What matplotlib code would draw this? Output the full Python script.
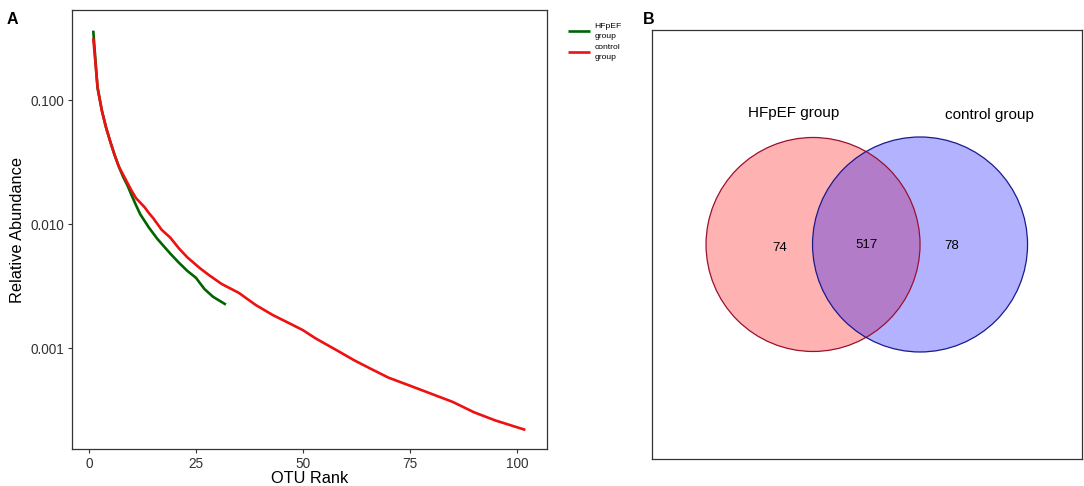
import matplotlib
matplotlib.use("Agg")
import matplotlib.pyplot as plt
from matplotlib.patches import Circle

plt.rcParams['font.family'] = ['Liberation Sans', 'DejaVu Sans']

# ---- panel A data: rank abundance curves ----
hfpef_rank = [1, 2, 3, 4, 5, 6, 7, 8, 9, 10, 11, 12, 14, 16, 19, 21, 23, 25, 27, 29, 32]
hfpef_abund = [0.363, 0.125, 0.083, 0.060, 0.046, 0.036, 0.029, 0.024, 0.0205, 0.0170,
               0.0142, 0.0120, 0.0094, 0.0076, 0.0058, 0.0049, 0.0042, 0.0037, 0.0030,
               0.0026, 0.00225]

control_rank = [1, 2, 3, 4, 5, 6, 7, 8, 9, 10, 11, 13, 14, 15, 17, 19, 21, 23, 26, 28,
                31, 35, 39, 43, 47, 50, 53, 58, 62, 66, 70, 75, 80, 85, 90, 95, 102]
control_abund = [0.315, 0.128, 0.082, 0.060, 0.046, 0.036, 0.029, 0.025, 0.0215, 0.0185,
                 0.0162, 0.0137, 0.0123, 0.0112, 0.0090, 0.0078, 0.0064, 0.0054, 0.0044,
                 0.0039, 0.0033, 0.0028, 0.00223, 0.00185, 0.00158, 0.0014, 0.00120,
                 0.00096, 0.00080, 0.00068, 0.00058, 0.00050, 0.00043, 0.00037,
                 0.000305, 0.000262, 0.000220]

x_ticks = [0, 25, 50, 75, 100]
y_ticks = [0.001, 0.010, 0.100]
y_ticklabels = ["0.001", "0.010", "0.100"]

# ---- panel B data: venn counts ----
group_names = ["HFpEF group", "control group"]
only_hfpef = 74
shared = 517
only_control = 78

fig = plt.figure(figsize=(10.84, 4.86), dpi=100)

############################################################################
# Panel A
############################################################################
ax = fig.add_axes([0.0661, 0.0755, 0.4385, 0.9039])
ax.plot(hfpef_rank, hfpef_abund, color="#006400", lw=1.9, label="HFpEF\ngroup",
        solid_capstyle="butt")
ax.plot(control_rank, control_abund, color="#EE1111", lw=1.9, label="control\ngroup",
        solid_capstyle="butt")
ax.set_yscale("log")
ax.set_xlim(-4.05, 107.05)
ax.set_ylim(10 ** -3.814, 10 ** -0.274)
ax.set_xticks(x_ticks)
ax.set_yticks(y_ticks)
ax.set_yticklabels(y_ticklabels)
ax.minorticks_off()
ax.tick_params(labelsize=9.8, labelcolor="#333333", color="#333333", length=3, width=0.8,
               pad=2.5)
for s in ax.spines.values():
    s.set_linewidth(0.9)
    s.set_color("#333333")
ax.set_xlabel("OTU Rank", fontsize=11.8, labelpad=0)
ax.set_ylabel("Relative Abundance", fontsize=11.8, labelpad=4)

leg = ax.legend(loc="upper left", bbox_to_anchor=(1.044, 0.97), frameon=False,
                fontsize=6.1, handlelength=2.6, handletextpad=0.5, labelspacing=0.45,
                borderaxespad=0, borderpad=0)
for t in leg.get_texts():
    t.set_linespacing(1.55)

fig.text(0.006, 0.975, "A", fontsize=11.5, fontweight="bold", va="top")

############################################################################
# Panel B: Venn diagram, drawn in pixel-like coordinates
############################################################################
bx = fig.add_axes([0.6015, 0.0556, 0.3967, 0.8827])
bx.set_xlim(652, 1082)
bx.set_ylim(459, 30)
bx.set_xticks([])
bx.set_yticks([])
for s in bx.spines.values():
    s.set_linewidth(0.9)
    s.set_color("#333333")

bx.add_patch(Circle((813, 244.5), 107, facecolor="red", alpha=0.3, edgecolor="none"))
bx.add_patch(Circle((920, 244.5), 107.5, facecolor="blue", alpha=0.3, edgecolor="none"))
bx.add_patch(Circle((813, 244.5), 107, facecolor="none", edgecolor="#9B1030", lw=0.9))
bx.add_patch(Circle((920, 244.5), 107.5, facecolor="none", edgecolor="#1A1A8C", lw=0.9))

bx.text(794, 113, group_names[0], fontsize=11, ha="center", va="center")
bx.text(989, 115, group_names[1], fontsize=11, ha="center", va="center")
bx.text(780, 248, str(only_hfpef), fontsize=9.5, ha="center", va="center")
bx.text(866, 245, str(shared), fontsize=9.5, ha="center", va="center")
bx.text(952, 246, str(only_control), fontsize=9.5, ha="center", va="center")

fig.text(0.593, 0.975, "B", fontsize=11.5, fontweight="bold", va="top")

fig.savefig("out.png", dpi=100)
